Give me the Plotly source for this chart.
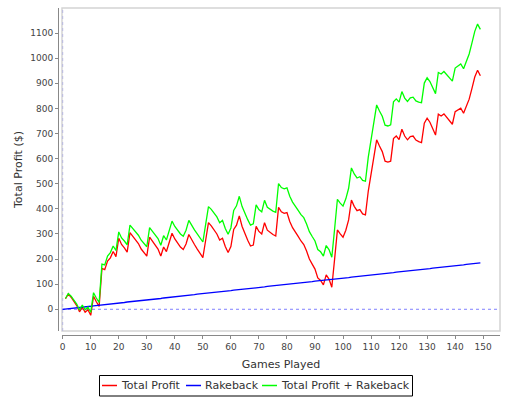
import plotly.graph_objects as go

games = list(range(1, 150))
total_profit = [
    42, 61, 48, 32, 15, -10, 8, -12, -2, -24,
    52, 30, 11, 163, 158, 192, 205, 230, 210, 283,
    258, 245, 228, 305, 290, 275, 262, 240, 228, 212,
    287, 270, 258, 240, 212, 248, 230, 270, 303, 280,
    262, 248, 238, 260, 298, 275, 258, 240, 225, 206,
    275, 345, 332, 318, 300, 276, 283, 250, 226, 250,
    318, 335, 372, 330, 300, 275, 252, 256, 330, 310,
    300, 345, 315, 305, 298, 292, 406, 388, 382, 385,
    350, 325, 305, 290, 272, 258, 232, 200, 180, 160,
    125, 115, 97, 137, 120, 88, 200, 316, 300, 287,
    315, 356, 435, 410, 393, 397, 380, 376, 470, 545,
    610, 675, 650, 628, 590, 586, 590, 680, 690, 676,
    717, 690, 675, 688, 690, 674, 668, 664, 741, 761,
    745, 720, 694, 777, 770, 778, 765, 754, 737, 787,
    795, 801, 781, 810, 837, 880, 925, 952, 930,
]
rake_games = list(range(0, 150))
rakeback = [
    0, 1, 2, 4, 5, 6, 7, 9, 10, 11, 12, 14, 15, 16, 17, 19, 20, 21, 22, 24,
    25, 26, 27, 29, 30, 31, 32, 33, 35, 36, 37, 38, 40, 41, 42, 43, 45, 46, 47, 48,
    50, 51, 52, 53, 55, 56, 57, 58, 60, 61, 62, 63, 64, 66, 67, 68, 69, 71, 72, 73,
    74, 76, 77, 78, 79, 81, 82, 83, 84, 86, 87, 88, 89, 91, 92, 93, 94, 95, 97, 98,
    99, 100, 102, 103, 104, 105, 107, 108, 109, 110, 112, 113, 114, 115, 117, 118, 119, 120, 122, 123,
    124, 125, 126, 128, 129, 130, 131, 133, 134, 135, 136, 138, 139, 140, 141, 143, 144, 145, 146, 148,
    149, 150, 151, 153, 154, 155, 156, 157, 159, 160, 161, 162, 164, 165, 166, 167, 169, 170, 171, 172,
    174, 175, 176, 177, 179, 180, 181, 182, 184, 185,
]
rake_lookup = dict(zip(rake_games, rakeback))
profit_plus_rake = [p + rake_lookup[g] for g, p in zip(games, total_profit)]

series_names = ["Total Profit", "Rakeback", "Total Profit + Rakeback"]
series_colors = ["#ff0000", "#0000ff", "#00ff00"]

x_ticks = list(range(0, 151, 10))
y_ticks = list(range(0, 1101, 100))

W, H = 512, 398
ML, MR, MT, MB = 58, 12, 8, 63
PW, PH = W - ML - MR, H - MT - MB
OFF = 4
dx, dy = OFF / PW, OFF / PH


def px(xp):
    return (xp - ML) / PW


def py(yp):
    return (H - MB - yp) / PH


fig = go.Figure()
for xs, ys, name, color in [
    (games, total_profit, series_names[0], series_colors[0]),
    (rake_games, rakeback, series_names[1], series_colors[1]),
    (games, profit_plus_rake, series_names[2], series_colors[2]),
]:
    fig.add_trace(go.Scatter(x=xs, y=ys, mode="lines", name=name,
                             line=dict(color=color, width=1.3)))

shapes = [
    dict(type="rect", xref="paper", yref="paper", x0=dx, x1=1, y0=dy, y1=1,
         line=dict(color="#d4d4d4", width=1.5), layer="below"),
    dict(type="line", xref="x", yref="y", x0=-0.25, x1=156, y0=0, y1=0,
         line=dict(color="#8080ff", width=1, dash="dot"), layer="below"),
    dict(type="line", xref="x", yref="y", x0=0, x1=0, y0=-86.5, y1=1200,
         line=dict(color="#b8b8e0", width=1, dash="dot"), layer="below"),
    # legend box
    dict(type="rect", xref="paper", yref="paper", x0=px(99.5), x1=px(412.5),
         y0=py(396), y1=py(375.5), line=dict(color="#000000", width=1), layer="below"),
]
annotations = []
leg_line_x = [102, 186, 262]
leg_y = 385.5
for lx, name, color in zip(leg_line_x, series_names, series_colors):
    shapes.append(dict(type="line", xref="paper", yref="paper", x0=px(lx), x1=px(lx + 15),
                       y0=py(leg_y), y1=py(leg_y), layer="above",
                       line=dict(color=color, width=1.5)))
    annotations.append(dict(xref="paper", yref="paper", x=px(lx + 17), y=py(leg_y),
                            text=name, showarrow=False, xanchor="left", yanchor="middle",
                            font=dict(size=11, color="#333333", family="DejaVu Sans")))

fig.update_layout(
    width=W, height=H,
    margin=dict(l=ML, r=MR, t=MT, b=MB, pad=0),
    paper_bgcolor="white", plot_bgcolor="white",
    font=dict(family="DejaVu Sans", size=9, color="#444444"),
    xaxis=dict(domain=[dx, 1], anchor="free", position=0, range=[-0.25, 156],
               tickvals=x_ticks, ticks="outside", ticklen=3, tickcolor="#888888",
               showline=True, linecolor="#888888", linewidth=1, showgrid=False, zeroline=False,
               tickfont=dict(size=9, color="#444444"),
               title=dict(text="Games Played", font=dict(size=11, color="#333333"), standoff=9)),
    yaxis=dict(domain=[dy, 1], anchor="free", position=0, range=[-86.5, 1200],
               tickvals=y_ticks, ticks="outside", ticklen=3, tickcolor="#888888",
               showline=True, linecolor="#888888", linewidth=1, showgrid=False, zeroline=False,
               tickfont=dict(size=9, color="#444444"),
               title=dict(text="Total Profit ($)", font=dict(size=11, color="#333333"), standoff=4)),
    showlegend=False,
    shapes=shapes,
    annotations=annotations,
)

fig.write_html("out.html")
